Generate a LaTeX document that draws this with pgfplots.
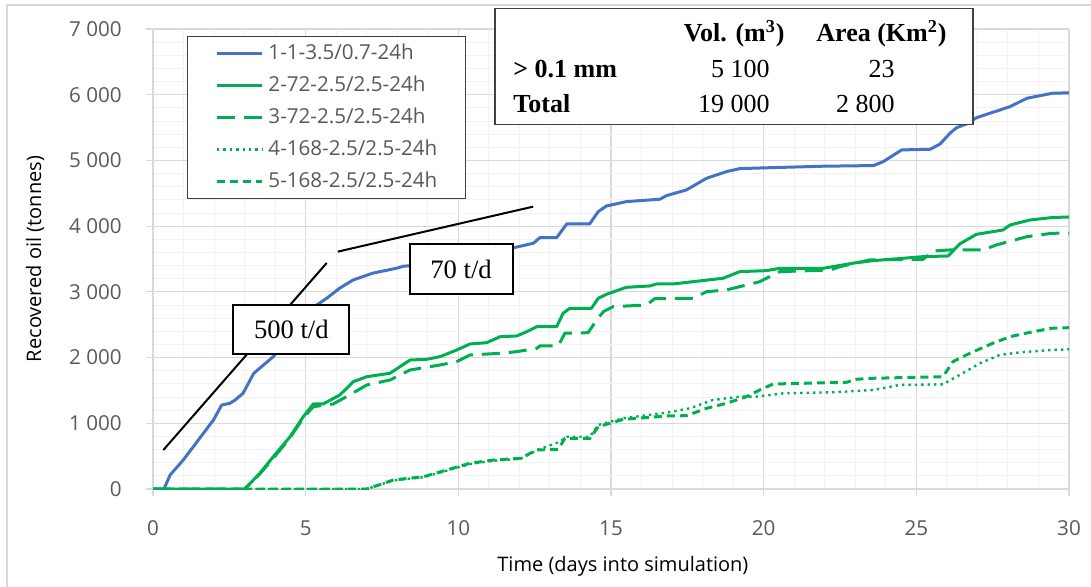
\documentclass[border=0pt]{standalone}
\usepackage{fontspec}
\setmainfont{Open Sans}
\newfontfamily\tnr{Liberation Serif}
\usepackage{pgfplots}
\pgfplotsset{compat=1.18}
\definecolor{cblue}{HTML}{4472C4}
\definecolor{cgreen}{HTML}{00B050}
\definecolor{ctext}{HTML}{595959}
\definecolor{cgrid}{HTML}{D9D9D9}
\definecolor{cminor}{HTML}{F2F2F2}
\definecolor{cbox}{HTML}{404040}
\newcommand{\lblfont}{\fontsize{10.3}{12}\selectfont}
\begin{document}
\begin{tikzpicture}[x=1pt,y=1pt]
\useasboundingbox (-76.5,-48.5) rectangle (469,244.5);
\draw[cgrid, line width=0.6pt] (-73,-60) -- (-73,242) -- (480,242);
\begin{axis}[
  at={(0,0)}, anchor=south west,
  scale only axis, width=458pt, height=230pt,
  xmin=0, xmax=30, ymin=0, ymax=7000,
  xtick={0,5,...,30}, ytick={0,1000,...,7000},
  minor x tick num=4, minor y tick num=4,
  grid=both,
  major grid style={color=cgrid, line width=0.6pt},
  minor grid style={color=cminor, line width=0.5pt},
  axis lines*=left,
  axis line style={color=cgrid, line width=0.6pt},
  tick align=outside, major tick length=3.5pt, minor tick length=0pt,
  tick style={color=cgrid, line width=0.6pt},
  /pgf/number format/assume math mode=true,
  /pgf/number format/1000 sep={\ },
  ticklabel style={font=\lblfont, text=ctext, inner sep=0pt},
  xticklabel shift=12pt, yticklabel shift=12pt,
  xlabel={Time (days into simulation)},
  ylabel={Recovered oil (tonnes)},
  label style={font=\lblfont, text=ctext},
  every axis x label/.style={at={(axis description cs:0.513,-0.1674)}, anchor=center},
  every axis y label/.style={at={(axis description cs:-0.1288,0.5)}, rotate=90, anchor=center},
  legend style={at={(rel axis cs:0.0371,0.9848)}, anchor=north west,
    draw=cbox, line width=0.5pt, fill=white, font=\lblfont, text=ctext,
    inner xsep=14pt, inner ysep=3.25pt, row sep=5.5pt, column sep=2.5pt,
    nodes={inner sep=0pt, text height=8pt, text depth=2.5pt}},
  legend cell align=left,
  legend image code/.code={\draw[#1] (0pt,0pt) -- (22.5pt,0pt);},
]
\addplot[cblue, line width=1.5pt, line join=round] coordinates {
(0,0) (0.36,0) (0.56,213) (0.99,441) (1.32,644) (1.65,848) (1.98,1050) (2.25,1278)
(2.52,1304) (2.69,1355) (2.95,1457) (3.3,1761) (3.94,2014) (4.5,2320) (5.0,2600)
(5.36,2800) (5.68,2900) (6.12,3058) (6.55,3180) (7.2,3285) (7.98,3360) (8.2,3390)
(9.0,3420) (10.0,3500) (11.0,3580) (11.8,3670) (12.46,3740) (12.67,3825) (13.22,3825)
(13.55,4033) (14.3,4033) (14.58,4220) (14.85,4307) (15.5,4373) (16.6,4410) (16.82,4465)
(17.47,4551) (18.13,4729) (18.78,4830) (19.22,4876) (20.31,4891) (21.95,4912) (23.6,4922)
(23.92,4983) (24.52,5160) (25.45,5170) (25.78,5250) (26.1,5414) (26.32,5499) (26.65,5556)
(26.97,5651) (27.41,5718) (28.07,5819) (28.62,5946) (29.07,5987) (29.45,6022) (30,6030)
};
\addlegendentry{1-1-3.5/0.7-24h}
\addplot[cgreen, line width=1.5pt, line join=round] coordinates {
(0,0) (3.0,0) (3.5,239) (3.94,492) (4.49,796) (4.92,1100) (5.25,1294) (5.57,1294)
(6.12,1431) (6.56,1633) (7.0,1709) (7.76,1761) (8.42,1963) (8.96,1974) (9.4,2014)
(9.95,2116) (10.38,2207) (10.93,2227) (11.37,2318) (11.91,2329) (12.24,2394) (12.57,2470)
(13.22,2470) (13.43,2674) (13.65,2750) (14.36,2750) (14.58,2902) (14.85,2963) (15.5,3069)
(16.27,3090) (16.49,3120) (17.03,3120) (17.8,3161) (18.67,3207) (19.22,3308) (20.09,3323)
(20.53,3359) (21.95,3359) (23.04,3445) (23.58,3475) (24.56,3511) (25.22,3536) (26.04,3546)
(26.42,3729) (26.97,3876) (27.84,3942) (28.07,4018) (28.72,4094) (29.43,4130) (30,4140)
};
\addlegendentry{2-72-2.5/2.5-24h}
\addplot[cgreen, line width=1.5pt, dash pattern=on 9pt off 4.5pt] coordinates {
(0,0) (3.0,0) (3.5,230) (3.94,470) (4.49,780) (4.92,1080) (5.25,1253) (5.9,1294)
(6.34,1405) (7.0,1583) (7.76,1659) (8.42,1811) (9.4,1887) (9.95,1938) (10.38,2040)
(11.37,2065) (11.91,2090) (12.57,2141) (12.67,2177) (13.27,2177) (13.49,2370) (14.25,2379)
(14.53,2572) (14.75,2699) (15.07,2775) (16.16,2800) (16.43,2896) (17.69,2902) (18.13,3003)
(18.78,3029) (19.44,3105) (19.87,3155) (20.53,3308) (22.17,3333) (22.5,3384) (23.48,3486)
(25.22,3496) (25.55,3622) (26.1,3638) (27.19,3638) (27.62,3714) (28.62,3840) (29.43,3891)
(30,3895)
};
\addlegendentry{3-72-2.5/2.5-24h}
\addplot[cgreen, line width=1.2pt, dash pattern=on 1.2pt off 2pt] coordinates {
(0,0) (7.0,0) (7.87,130) (8.86,180) (9.62,280) (10.38,380) (11.15,430) (12.03,460)
(12.57,590) (13.33,720) (13.55,796) (14.31,796) (14.58,974) (15.4,1076) (16.82,1162)
(17.58,1228) (18.34,1355) (19.22,1405) (19.76,1405) (20.64,1456) (22.28,1472) (23.58,1507)
(24.45,1583) (25.87,1593) (26.42,1735) (27.08,1913) (27.73,2040) (28.39,2080) (29.43,2116)
(30,2125)
};
\addlegendentry{4-168-2.5/2.5-24h}
\addplot[cgreen, line width=1.5pt, dash pattern=on 4pt off 2.5pt] coordinates {
(0,0) (7.0,0) (7.87,137) (8.86,187) (9.62,289) (10.38,391) (11.15,441) (12.03,467)
(12.57,594) (13.27,604) (13.49,771) (14.31,771) (14.58,948) (15.4,1060) (16.82,1111)
(17.47,1116) (18.13,1228) (18.78,1304) (19.44,1405) (19.87,1507) (20.31,1598) (22.71,1624)
(23.04,1670) (23.58,1685) (25.87,1709) (26.2,1938) (26.75,2065) (27.62,2242) (28.17,2329)
(28.83,2394) (29.43,2446) (30,2455)
};
\addlegendentry{5-168-2.5/2.5-24h}
\addplot[black, line width=1pt, forget plot] coordinates {(0.34,594) (5.69,3440)};
\addplot[black, line width=1pt, forget plot] coordinates {(6.05,3612) (12.45,4297)};
\node[draw=black, line width=1pt, fill=white, minimum width=58pt, minimum height=24.5pt,
  font=\tnr\fontsize{13.3}{15}\selectfont, inner sep=0pt] at (axis cs:4.53,2424) {500 t/d};
\node[draw=black, line width=1pt, fill=white, minimum width=51.5pt, minimum height=25pt,
  font=\tnr\fontsize{13.3}{15}\selectfont, inner sep=0pt] at (axis cs:10.09,3349) {70 t/d};
\end{axis}
\node[draw=cbox, line width=0.6pt, fill=white, minimum width=239pt, minimum height=57.9pt, inner sep=0pt] at (290.5,211.4) {};
\begin{scope}[every node/.style={font=\tnr\fontsize{13}{15}\selectfont, inner sep=0pt}]
\node[anchor=base east] at (316,224) {\bfseries Vol. (m\textsuperscript{3})};
\node[anchor=base east] at (397,224) {\bfseries Area (Km\textsuperscript{2})};
\node[anchor=base west] at (180,205.65) {\bfseries > 0.1 mm};
\node[anchor=base east] at (308.5,205.65) {5 100};
\node[anchor=base east] at (371,205.65) {23};
\node[anchor=base west] at (180,188.35) {\bfseries Total};
\node[anchor=base east] at (308.5,188.35) {19 000};
\node[anchor=base east] at (371,188.35) {2 800};
\end{scope}
\end{tikzpicture}
\end{document}
